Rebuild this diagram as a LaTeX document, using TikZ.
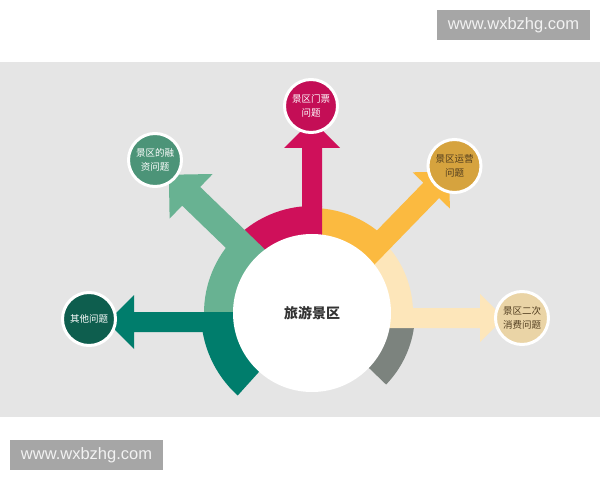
\documentclass[tikz,border=0pt]{standalone}
\usepackage{fontspec}
\setmainfont{Liberation Sans}
\newfontfamily\cjk{Noto Sans CJK SC}
\definecolor{band}{RGB}{229,229,229}
\definecolor{rose}{RGB}{207,16,90}
\definecolor{rosedark}{RGB}{196,14,86}
\definecolor{mint}{RGB}{104,178,146}
\definecolor{mintdark}{RGB}{76,148,120}
\definecolor{teal}{RGB}{0,125,108}
\definecolor{tealdark}{RGB}{14,94,78}
\definecolor{amber}{RGB}{251,186,64}
\definecolor{amberdark}{RGB}{214,163,62}
\definecolor{cream}{RGB}{253,230,186}
\definecolor{creamdark}{RGB}{234,212,166}
\definecolor{slate}{RGB}{124,131,126}
\definecolor{brownink}{RGB}{80,60,30}
\definecolor{wmgray}{RGB}{166,166,166}
\begin{document}
\begin{tikzpicture}[x=1pt,y=1pt,
  issue/.style={circle,draw=white,line width=3pt,minimum size=53pt,inner sep=0pt,
    align=center,font=\cjk\fontsize{9.5}{14}\selectfont},
  wmbox/.style={fill=wmgray,text=white!95!black,minimum width=153pt,minimum height=30pt,
    inner sep=0pt,font=\fontsize{16.5}{18}\selectfont}]
  \useasboundingbox (0,0) rectangle (600,480);
  \fill[white] (0,0) rectangle (600,480);
  \fill[band] (0,63) rectangle (600,418);

  \coordinate (O) at (312,167);

  \fill[mint] (O) -- ++(136:108) arc[start angle=136,end angle=180,radius=108] -- cycle;
  \fill[teal] (O) -- ++(180:111) arc[start angle=180,end angle=228,radius=111] -- cycle;
  \fill[cream] (O) -- ++(50:101) arc[start angle=50,end angle=-8.5,radius=101] -- cycle;
  \fill[slate] (O) -- ++(-8.5:103) arc[start angle=-8.5,end angle=-44,radius=103] -- cycle;
  \fill[rose] (O) -- ++(84.6:107) arc[start angle=84.6,end angle=136,radius=107] -- cycle;
  \fill[amber] (O) -- ++(46:105) arc[start angle=46,end angle=84.6,radius=105] -- cycle;

  \begin{scope}[shift={(312,158)},rotate=180]
    \fill[teal] (0,-10) -- (178,-10) -- (178,-27) -- (205,0) -- (178,27) -- (178,10) -- (0,10) -- cycle;
  \end{scope}
  \begin{scope}[shift={(312,162)}]
    \fill[cream] (0,-10) -- (168,-10) -- (168,-24) -- (192,0) -- (168,24) -- (168,10) -- (0,10) -- cycle;
  \end{scope}
  \begin{scope}[shift={(O)},rotate=136]
    \fill[mint] (0,-13) -- (168,-13) -- (168,-31) -- (199,0) -- (168,31) -- (168,13) -- (0,13) -- cycle;
  \end{scope}
  \begin{scope}[shift={(O)},rotate=90]
    \fill[rose] (0,-10) -- (165,-10) -- (165,-28) -- (193,0) -- (165,28) -- (165,10) -- (0,10) -- cycle;
  \end{scope}
  \begin{scope}[shift={(O)},rotate=45.8]
    \fill[amber] (0,-11) -- (171,-11) -- (171,-26) -- (197,0) -- (171,26) -- (171,11) -- (0,11) -- cycle;
  \end{scope}

  \node[circle,fill=white,minimum size=158pt,inner sep=0pt,text=black!80,
    font=\cjk\bfseries\fontsize{14}{16}\selectfont] (hub) at (O) {旅游景区};

  \node[issue,fill=rosedark,text=white] (ticket) at (311,374) {景区门票\\问题};
  \node[issue,fill=mintdark,text=white] (finance) at (155,320) {景区的融\\资问题};
  \node[issue,fill=amberdark,text=brownink] (operate) at (454.5,314) {景区运营\\问题};
  \node[issue,fill=creamdark,text=brownink] (spend) at (522,162) {景区二次\\消费问题};
  \node[issue,fill=tealdark,text=white] (other) at (89,161) {其他问题};

  \node[wmbox] (wmtop) at (513.5,455) {www.wxbzhg.com};
  \node[wmbox] (wmbot) at (86.5,25) {www.wxbzhg.com};
\end{tikzpicture}
\end{document}
